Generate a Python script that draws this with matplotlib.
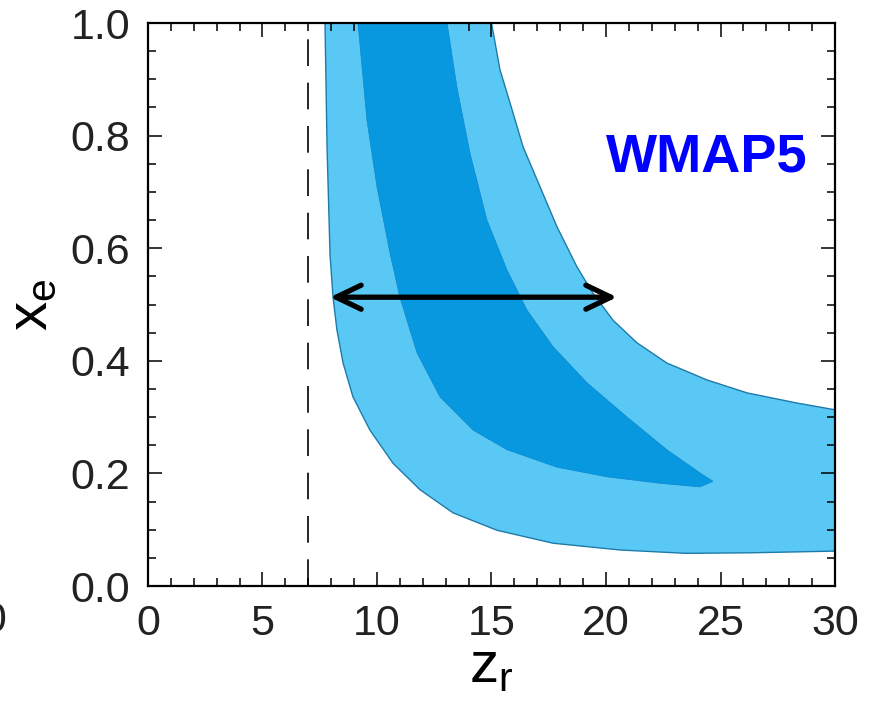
import matplotlib
matplotlib.use("Agg")
import matplotlib.pyplot as plt

plt.rcParams["font.family"] = ["Liberation Sans", "DejaVu Sans"]

# outer (95%) region boundary
# lower-left edge, from the top of the axis down and across to z = 30
outer_lo_x = [7.73, 7.82, 7.95, 8.08, 8.25, 8.52, 8.95, 9.69, 10.70, 11.88, 13.32,
              15.24, 17.69, 20.61, 23.5, 26.3, 30.0]
outer_lo_y = [1.0, 0.778, 0.588, 0.513, 0.455, 0.396, 0.336, 0.277, 0.218, 0.171, 0.130,
              0.099, 0.076, 0.064, 0.058, 0.059, 0.062]
# upper-right edge, from z = 30 back up to the top of the axis
outer_hi_x = [30.0, 28.34, 26.16, 24.41, 22.66, 21.35, 20.31, 19.43, 18.73, 17.86,
              17.12, 16.38, 15.81, 15.37, 15.0]
outer_hi_y = [0.313, 0.325, 0.343, 0.366, 0.396, 0.432, 0.472, 0.520, 0.567, 0.638,
              0.709, 0.780, 0.858, 0.917, 1.0]

# inner (68%) region boundary
inner_lo_x = [9.17, 9.56, 10.0, 10.57, 11.0, 11.75, 12.75, 14.19, 15.68, 17.86, 20.04,
              22.23, 24.10, 24.67]
inner_lo_y = [1.0, 0.828, 0.709, 0.591, 0.513, 0.414, 0.336, 0.277, 0.242, 0.211, 0.194,
              0.183, 0.176, 0.186]
inner_hi_x = [24.10, 22.66, 20.92, 19.17, 17.69, 16.55, 15.68, 14.80, 14.06, 13.49, 13.06]
inner_hi_y = [0.201, 0.242, 0.300, 0.361, 0.425, 0.490, 0.561, 0.650, 0.769, 0.886, 1.0]

z_cut = 7
arrow_x = [7.95, 20.48]
arrow_y = 0.513

fig = plt.figure(figsize=(8.73, 7.04), dpi=100)
ax = fig.add_axes([0.1695, 0.1676, 0.787, 0.7997])

ax.fill(outer_lo_x + outer_hi_x, outer_lo_y + outer_hi_y,
        facecolor="#5ac8f5", edgecolor="#1e7aa8", lw=1.0, zorder=1)
ax.fill(inner_lo_x + inner_hi_x, inner_lo_y + inner_hi_y,
        facecolor="#0898e0", edgecolor="#0a88cc", lw=0.5, zorder=2)

ax.plot([z_cut, z_cut], [0, 1], color="black", lw=1.2, dashes=(16, 10), zorder=3)

ax.annotate("", xy=(arrow_x[1], arrow_y), xytext=(arrow_x[0], arrow_y),
            arrowprops=dict(arrowstyle="<->,head_length=1.0,head_width=0.48",
                            lw=3.8, color="black", mutation_scale=18,
                            shrinkA=0, shrinkB=0), zorder=4)

ax.text(24.4, 0.762, "WMAP5", color="#0000ff", fontsize=39, fontweight="bold",
        ha="center", va="center")

ax.set_xlim(0, 30)
ax.set_ylim(0, 1)
ax.set_xticks(range(0, 31, 5))
ax.set_xticks(range(0, 31), minor=True)
ax.set_yticks([0, 0.2, 0.4, 0.6, 0.8, 1.0])
ax.set_yticks([i * 0.05 for i in range(21)], minor=True)
ax.set_yticklabels(["0.0", "0.2", "0.4", "0.6", "0.8", "1.0"])

ax.tick_params(which="both", direction="in", top=True, right=True,
               width=1.1, color="black", labelsize=31, labelcolor="#222222", pad=13)
ax.tick_params(which="major", length=10)
ax.tick_params(which="minor", length=6)
for s in ax.spines.values():
    s.set_linewidth(1.6)

ax.set_xlabel(r"$\mathregular{z_r}$", fontsize=42, labelpad=-3)
ax.set_ylabel(r"$\mathregular{x_e}$", fontsize=42, labelpad=8)

# edge of the neighbouring panel's tick label
fig.text(7 / 873, 0.118, "30", fontsize=31, color="#222222", ha="right", va="center")

fig.savefig("out.png", dpi=100)
